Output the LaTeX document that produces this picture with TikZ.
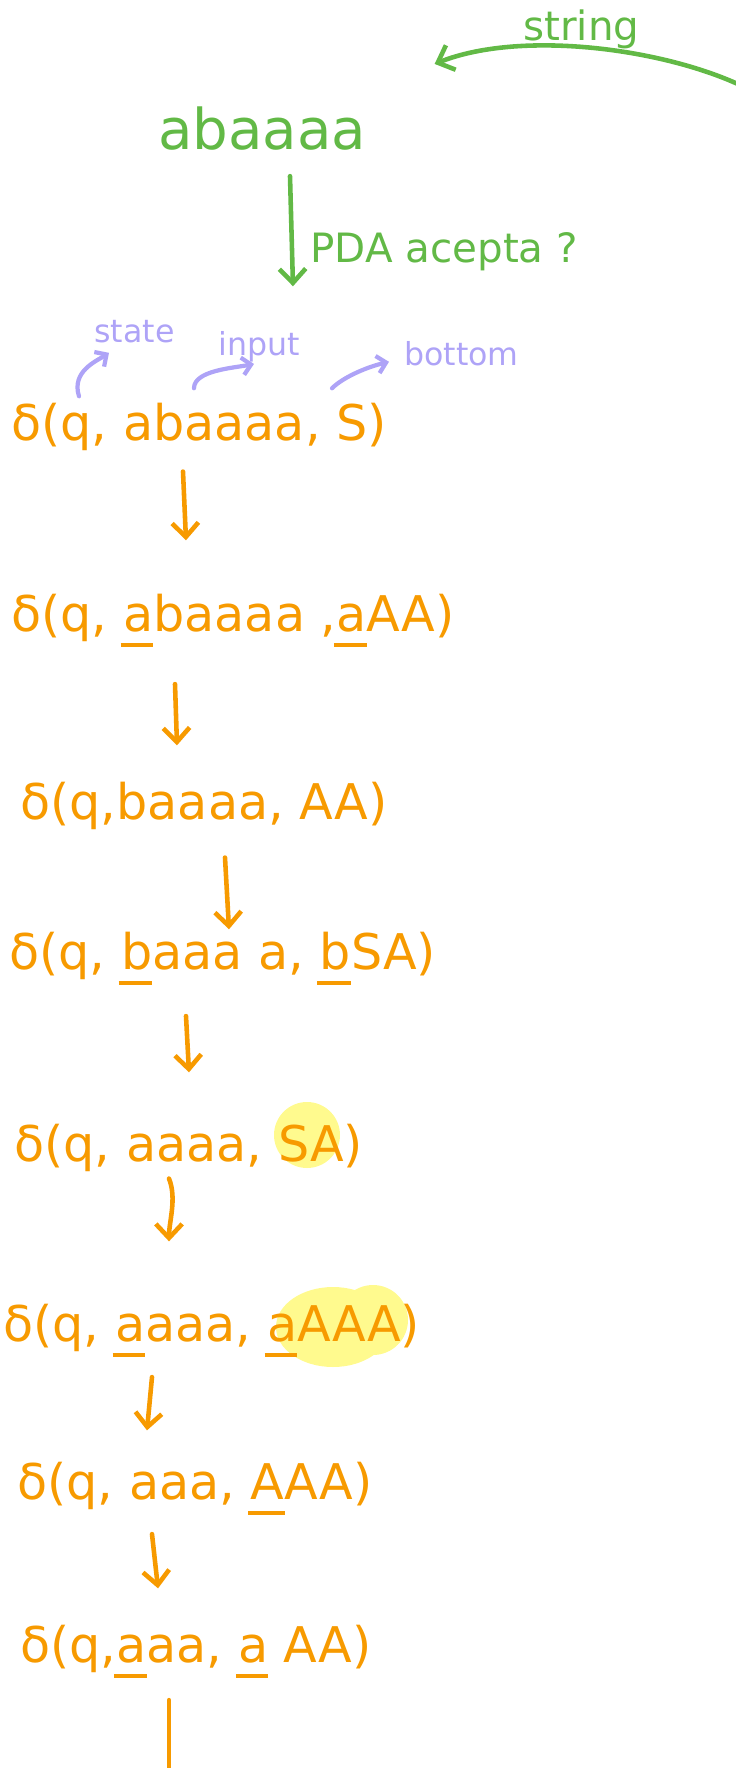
\documentclass[tikz,border=0pt]{standalone}
\usepackage{fontspec}
\setmainfont{DejaVu Sans}
\usetikzlibrary{arrows.meta}
\definecolor{grn}{HTML}{62B946}
\definecolor{org}{HTML}{F79A00}
\definecolor{lav}{HTML}{AEA3F7}
\definecolor{hi}{HTML}{FFFA8E}
% thick pen-like underline for the symbol being read
\newcommand{\ul}[1]{\leavevmode\setbox0\hbox{#1}\rlap{\hspace{-0.05em}\raisebox{-0.32em}{\rule{\dimexpr\wd0+0.05em\relax}{2.4pt}}}\box0}

\begin{document}
\begin{tikzpicture}[x=0.02cm, y=-0.02cm, line cap=round, line join=round,
  >={Straight Barb[length=8pt, width=15pt]},
  cfg/.style={text=org, font=\fontsize{28}{30}\selectfont, anchor=base west, inner sep=0pt},
  gtxt/.style={text=grn, font=\fontsize{32}{34}\selectfont, anchor=base west, inner sep=0pt},
  lbl/.style={text=lav, font=\fontsize{18}{20}\selectfont, anchor=base west, inner sep=0pt},
  pen/.style={line width=2.6pt, org},
  gpen/.style={line width=2.6pt, grn},
  lpen/.style={line width=2.4pt, lav, >={Straight Barb[length=5pt, width=10pt]}}]
  \useasboundingbox (0,0) rectangle (736,1768);
  % highlighter marks
  \fill[hi] (307,1135) circle [radius=33];
  \fill[hi] (333,1327) ellipse [x radius=57, y radius=40];
  \fill[hi] (373,1320) circle [radius=35];
  % input string
  \node[gtxt] (src) at (158,149) {abaaaa};
  \node[gtxt, font=\fontsize{23}{25}\selectfont] (str) at (523,40) {string};
  \node[gtxt, font=\fontsize{23}{25}\selectfont] (ask) at (310,262) {PDA acepta ?};
  \coordinate (edge) at (740,85);
  \draw[gpen,->] (edge) .. controls (660,48) and (520,30) .. ([shift={(68,-42)}]src.north east);
  % configurations
  \node[cfg] (r1) at (11,440)  {δ(q, abaaaa, S)};
  \node[cfg] (r2) at (11,631)  {δ(q, \ul{a}baaaa ,\ul{a}AA)};
  \node[cfg] (r3) at (20,819)  {δ(q,baaaa, AA)};
  \node[cfg] (r4) at (9,969)   {δ(q, \ul{b}aaa a, \ul{b}SA)};
  \node[cfg] (r5) at (14,1161) {δ(q, aaaa, SA)};
  \node[cfg] (r6) at (3,1341)  {δ(q, \ul{a}aaa, \ul{a}AAA)};
  \node[cfg] (r7) at (17,1499) {δ(q, aaa, \ul{A}AA)};
  \node[cfg] (r8) at (20,1662) {δ(q,\ul{a}aa, \ul{a}\ AA)};
  \coordinate (tail) at (169,1768);
  % what each part of the triple is
  \node[lbl] (st)  at (94,342)  {state};
  \node[lbl] (inp) at (218,355) {input};
  \node[lbl] (bot) at (404,365) {bottom};
  \draw[lpen,->] ([shift={(68,-6)}]r1.north west) .. controls +(-8,-25) and +(-12,8) .. ([shift={(15,10)}]st.south west);
  \draw[lpen,->] ([shift={(183,-14)}]r1.north west) .. controls +(0,-18) and +(-20,4) .. ([shift={(36,2)}]inp.south west);
  \draw[lpen,->] ([shift={(321,-14)}]r1.north west) .. controls +(10,-10) and +(-25,6) .. ([shift={(-15,-4)}]bot.south west);
  % steps
  \draw[gpen,->] ([shift={(132,26)}]src.south west) -- ([shift={(282,-116)}]r1.north west);
  \draw[pen,->] ([shift={(172,21)}]r1.south west) -- ([shift={(175,-53)}]r2.north west);
  \draw[pen,->] ([shift={(164,37)}]r2.south west) -- ([shift={(157,-36)}]r3.north west);
  \draw[pen,->] ([shift={(205,28)}]r3.south west) -- ([shift={(220,-2)}]r4.north west);
  \draw[pen,->] ([shift={(177,31)}]r4.south west) -- ([shift={(175,-51)}]r5.north west);
  \draw[pen,->] ([shift={(155,7)}]r5.south west) .. controls +(8,20) and +(0,-20) .. ([shift={(166,-62)}]r6.north west);
  \draw[pen,->] ([shift={(149,20)}]r6.south west) -- ([shift={(130,-31)}]r7.north west);
  \draw[pen,->] ([shift={(135,19)}]r7.south west) -- ([shift={(138,-36)}]r8.north west);
  \draw[pen] ([shift={(149,22)}]r8.south west) -- (tail);
\end{tikzpicture}
\end{document}
